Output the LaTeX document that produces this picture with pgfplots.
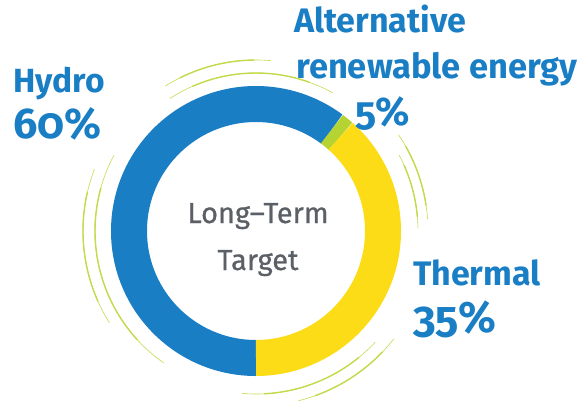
\documentclass[border=0pt]{standalone}
\usepackage{fontspec}
\setmainfont{Fira Sans}
\usepackage{pgfplots}
\usepackage{pgfplotstable}
\pgfplotsset{compat=1.18}
\usetikzlibrary{calc}
\definecolor{hydroblue}{HTML}{1A7EC5}
\definecolor{thermyellow}{HTML}{FCDB17}
\definecolor{altgreen}{HTML}{B6D334}
\definecolor{arcgreen}{HTML}{C3DA4C}
\definecolor{txtgray}{HTML}{5A6065}

% drawn share of the ring (percent of 360 degrees), clockwise from the bottom
\pgfplotstableread{
label share color
Hydro 60.2 hydroblue
Alternative 1.4 altgreen
Thermal 38.4 thermyellow
}\sharetable

\begin{document}
\begin{tikzpicture}
\useasboundingbox (0,0) rectangle (588pt,400pt);
\begin{axis}[hide axis, scale only axis, x=1pt, y=1pt,
  xmin=0, xmax=588, ymin=0, ymax=400, clip=false,
  at={(0,0)}, anchor=south west]
\addplot[draw=none] coordinates {(0,0)};
\coordinate (C) at (axis cs:256,169);
\def\acc{270}
\pgfplotsforeachungrouped \i in {0,1,2}{%
  \pgfplotstablegetelem{\i}{share}\of\sharetable
  \pgfmathsetmacro\endang{\acc-3.6*\pgfplotsretval}%
  \pgfplotstablegetelem{\i}{color}\of\sharetable
  \edef\temp{\noexpand\draw[line width=36pt, color=\pgfplotsretval] ($(axis cs:256,169)+(\acc:127pt)$) arc[start angle=\acc, end angle=\endang, radius=127pt];}%
  \temp
  \let\acc\endang
}
\end{axis}
% decorative arcs
\foreach \r/\a/\b in {171/85/122, 158/61/123, 173/159/212, 161/152/235, 172/4/34, 162/1/28, 163/265/317, 175/284/322}{
  \draw[arcgreen, line width=0.6pt] ($(C)+(\a:\r pt)$) arc[start angle=\a, end angle=\b, radius=\r pt];
  \pgfmathsetmacro\aa{\a+0.15*(\b-\a)}
  \pgfmathsetmacro\bb{\b-0.15*(\b-\a)}
  \draw[arcgreen, line width=1.4pt] ($(C)+(\aa:\r pt)$) arc[start angle=\aa, end angle=\bb, radius=\r pt];
}
% labels
\node[anchor=base west, inner sep=0, text=hydroblue] at (13pt,308pt) {\fontsize{33.5}{40}\selectfont\bfseries Hydro};
\node[anchor=base west, inner sep=0, text=hydroblue] at (13pt,262pt) {\fontsize{43}{48}\selectfont\bfseries\addfontfeatures{Numbers=OldStyle}60\%};
\node[anchor=base west, inner sep=0, text=hydroblue] at (294pt,367pt) {\fontsize{34}{40}\selectfont\bfseries Alternative};
\node[anchor=base west, inner sep=0, text=hydroblue] at (296pt,322pt) {\fontsize{34.5}{40}\selectfont\bfseries renewable energy};
\node[anchor=base west, inner sep=0, text=hydroblue] at (355pt,275pt) {\fontsize{40}{45}\selectfont\bfseries\addfontfeatures{Numbers=OldStyle}5\%};
\node[anchor=base west, inner sep=0, text=hydroblue] at (413pt,115pt) {\fontsize{34}{40}\selectfont\bfseries Thermal};
\node[anchor=base west, inner sep=0, text=hydroblue] at (413pt,68pt) {\fontsize{44}{49}\selectfont\bfseries\addfontfeatures{Numbers=OldStyle}35\%};
\node[anchor=base, inner sep=0, text=txtgray] at (258pt,177pt) {\fontsize{29}{33}\selectfont\addfontfeatures{FakeBold=0.7}Long–Term};
\node[anchor=base, inner sep=0, text=txtgray] at (258pt,130pt) {\fontsize{29}{33}\selectfont\addfontfeatures{FakeBold=0.7}Target};
\end{tikzpicture}
\end{document}
